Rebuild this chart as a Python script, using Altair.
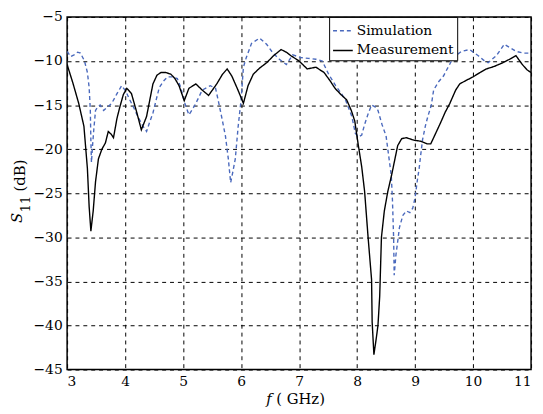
import altair as alt
import pandas as pd

meas_f = [3.0, 3.1, 3.2, 3.29, 3.35, 3.38, 3.41, 3.45, 3.49, 3.54, 3.6, 3.66, 3.71, 3.76, 3.8, 3.86,
          3.91, 3.97, 4.03, 4.11, 4.2, 4.28, 4.37, 4.48, 4.55, 4.62, 4.7, 4.79, 4.86, 4.93, 5.02,
          5.1, 5.22, 5.33, 5.44, 5.58, 5.68, 5.76, 5.84, 5.94, 6.04, 6.12, 6.21, 6.32, 6.44, 6.56,
          6.69, 6.78, 6.86, 7.0, 7.14, 7.29, 7.43, 7.53, 7.62, 7.72, 7.82, 7.9, 7.96, 8.02, 8.08,
          8.13, 8.19, 8.25, 8.26, 8.29, 8.33, 8.36, 8.39, 8.42, 8.47, 8.53, 8.6, 8.65, 8.7, 8.77,
          8.85, 8.99, 9.1, 9.21, 9.27, 9.32, 9.44, 9.52, 9.6, 9.7, 9.77, 9.88, 10.0, 10.12, 10.23,
          10.37, 10.51, 10.63, 10.74, 10.85, 10.93, 11.0]
meas_db = [-10.4, -12.5, -14.8, -17.4, -22.2, -26.5, -29.3, -27.0, -23.7, -21.1, -20.0, -19.3, -18.0,
           -18.3, -18.7, -16.5, -15.2, -13.8, -13.1, -13.7, -15.8, -17.8, -16.3, -12.6, -11.6, -11.3,
           -11.3, -11.5, -12.0, -12.8, -14.5, -13.1, -12.6, -13.3, -13.9, -12.6, -11.5, -10.9, -11.7,
           -13.2, -14.8, -12.8, -11.5, -10.8, -10.2, -9.4, -8.7, -9.0, -9.4, -10.0, -10.9, -10.7,
           -11.3, -12.2, -13.1, -13.8, -14.4, -15.6, -16.8, -19.5, -22.0, -24.8, -30.0, -34.8, -39.6,
           -43.3, -41.5, -40.0, -36.7, -30.0, -27.0, -24.8, -22.8, -21.2, -19.6, -18.8, -18.7, -19.0,
           -19.1, -19.4, -19.4, -18.7, -17.0, -15.8, -14.8, -13.3, -12.6, -12.2, -11.8, -11.3, -10.9,
           -10.6, -10.2, -9.8, -9.4, -10.4, -11.0, -11.3]

sim_f = [3.0, 3.06, 3.12, 3.18, 3.23, 3.3, 3.35, 3.38, 3.4, 3.41, 3.42, 3.44, 3.46, 3.49, 3.53, 3.57,
         3.63, 3.7, 3.77, 3.86, 3.94, 4.01, 4.08, 4.15, 4.22, 4.3, 4.37, 4.42, 4.48, 4.54, 4.59,
         4.66, 4.73, 4.82, 4.9, 4.96, 5.02, 5.1, 5.16, 5.22, 5.33, 5.47, 5.56, 5.61, 5.67, 5.73,
         5.78, 5.82, 5.86, 5.9, 5.95, 6.0, 6.04, 6.09, 6.18, 6.32, 6.44, 6.55, 6.66, 6.78, 6.89,
         7.03, 7.16, 7.29, 7.4, 7.51, 7.63, 7.72, 7.8, 7.91, 7.97, 8.03, 8.08, 8.13, 8.19, 8.25,
         8.31, 8.36, 8.43, 8.5, 8.56, 8.59, 8.61, 8.63, 8.64, 8.67, 8.7, 8.73, 8.79, 8.85, 8.91,
         8.96, 9.0, 9.04, 9.07, 9.1, 9.13, 9.18, 9.22, 9.28, 9.32, 9.4, 9.49, 9.57, 9.66, 9.8,
         9.94, 10.09, 10.18, 10.26, 10.4, 10.54, 10.64, 10.74, 10.87, 11.0]
sim_db = [-8.9, -9.5, -9.3, -9.0, -9.1, -10.0, -11.3, -13.0, -15.5, -19.0, -21.5, -19.5, -17.8, -15.6,
          -15.2, -15.0, -15.6, -15.2, -14.8, -13.7, -12.8, -13.4, -14.4, -15.3, -16.3, -17.3, -18.0,
          -17.0, -15.9, -14.3, -13.0, -12.3, -11.8, -11.8, -12.0, -13.0, -14.6, -16.1, -15.5, -14.8,
          -13.3, -12.8, -13.1, -14.6, -16.5, -18.5, -21.1, -23.8, -22.5, -21.1, -17.4, -14.4, -10.7,
          -9.6, -8.0, -7.4, -8.1, -9.1, -9.8, -10.4, -9.3, -9.6, -9.7, -9.8, -10.0, -11.5, -12.8,
          -13.6, -14.4, -16.3, -18.2, -18.6, -18.4, -17.2, -16.0, -15.0, -15.2, -15.6, -17.2, -18.5,
          -21.5, -23.0, -25.8, -30.0, -34.3, -32.0, -30.5, -28.9, -27.5, -27.0, -27.2, -26.7, -25.5,
          -23.5, -22.2, -20.5, -18.9, -17.3, -16.3, -15.0, -13.3, -12.4, -11.7, -10.7, -9.6, -8.9,
          -8.7, -9.4, -9.9, -10.2, -9.4, -8.1, -8.5, -8.9, -9.1, -9.1]

series_names = ["Simulation", "Measurement"]
x_ticks = [3, 4, 5, 6, 7, 8, 9, 10, 11]
y_ticks = [-45, -40, -35, -30, -25, -20, -15, -10, -5]

rows = []
for i, (f, d) in enumerate(zip(sim_f, sim_db)):
    rows.append({"f": f, "s11": d, "series": "Simulation", "i": i})
for i, (f, d) in enumerate(zip(meas_f, meas_db)):
    rows.append({"f": f, "s11": d, "series": "Measurement", "i": i})
df = pd.DataFrame(rows)

FONT = "DejaVu Serif"

lines = alt.Chart(df).mark_line(strokeWidth=1.4, clip=True).encode(
    x=alt.X("f:Q", scale=alt.Scale(domain=[3, 11], nice=False),
            axis=alt.Axis(values=x_ticks, title=None, format="d")),
    y=alt.Y("s11:Q", scale=alt.Scale(domain=[-45, -5], nice=False),
            axis=alt.Axis(values=y_ticks, title=None, format="d")),
    color=alt.Color("series:N", scale=alt.Scale(domain=series_names, range=["#4a69bd", "#000000"]),
                    legend=alt.Legend(title=None, orient="none", legendX=266, legendY=0,
                                      symbolType="stroke", symbolSize=400, symbolStrokeWidth=1.5,
                                      labelFont=FONT, labelFontSize=14, labelColor="black",
                                      fillColor="white", strokeColor="black", padding=3,
                                      rowPadding=2, labelOffset=3, cornerRadius=0)),
    strokeDash=alt.StrokeDash("series:N",
                              scale=alt.Scale(domain=series_names, range=[[4, 3], [1, 0]]),
                              legend=None),
    order="i:Q",
    detail="series:N",
)

title_df = pd.DataFrame([{"k": 0}])
xt_f = alt.Chart(title_df).mark_text(font=FONT, fontSize=15, fontStyle="italic", color="black",
                                     baseline="middle", align="center").encode(
    x=alt.value(205), y=alt.value(388), text=alt.value("f"))
xt_rest = alt.Chart(title_df).mark_text(font=FONT, fontSize=15, color="black",
                                        baseline="middle", align="center").encode(
    x=alt.value(237), y=alt.value(388), text=alt.value("( GHz)"))
yt_s = alt.Chart(title_df).mark_text(font=FONT, fontSize=15, fontStyle="italic", color="black",
                                     baseline="middle", align="center", angle=270).encode(
    x=alt.value(-51), y=alt.value(204), text=alt.value("S"))
yt_11 = alt.Chart(title_df).mark_text(font=FONT, fontSize=13, color="black",
                                      baseline="middle", align="center", angle=270).encode(
    x=alt.value(-42), y=alt.value(190), text=alt.value("11"))
yt_db = alt.Chart(title_df).mark_text(font=FONT, fontSize=15, color="black",
                                      baseline="middle", align="center", angle=270).encode(
    x=alt.value(-48), y=alt.value(161), text=alt.value("(dB)"))

chart = alt.layer(lines, xt_f, xt_rest, yt_s, yt_11, yt_db).properties(
    width=471, height=358,
    autosize=alt.AutoSizeParams(type="none"),
    padding={"left": 60, "top": 6, "right": 4, "bottom": 40},
).configure_view(
    stroke="black", strokeWidth=1.5
).configure_axis(
    grid=True, gridColor="black", gridDash=[4, 4], gridOpacity=1, gridWidth=1,
    domain=False, ticks=False,
    labelFont=FONT, labelFontSize=14, labelColor="black", labelPadding=5,
)

chart.save("out.html", embed_options={"renderer": "svg", "actions": False})
